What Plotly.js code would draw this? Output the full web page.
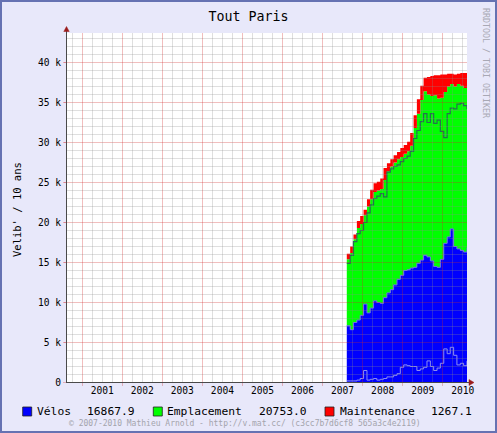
<!DOCTYPE html>
<html>
<head>
<meta charset="utf-8">
<script src="https://cdn.plot.ly/plotly-3.0.1.min.js"></script>
<style>
html,body{margin:0;padding:0;background:#E8E8FA;}
#chart{width:497px;height:433px;}
</style>
</head>
<body>
<div id="chart"></div>
<script>
// ---- data ----
const dates = ["2007-08-10","2007-09-10","2007-10-10","2007-11-10","2007-12-10",
  "2008-01-10","2008-02-10","2008-03-10","2008-04-10","2008-05-10","2008-06-10",
  "2008-07-10","2008-08-10","2008-09-10","2008-10-10","2008-11-10","2008-12-10",
  "2009-01-10","2009-02-10","2009-03-10","2009-04-10","2009-05-10","2009-06-10",
  "2009-07-10","2009-08-10","2009-09-10","2009-10-10","2009-11-10","2009-12-10",
  "2010-01-10","2010-02-10","2010-03-10","2010-04-10","2010-05-10","2010-06-10",
  "2010-07-10","2010-08-10"];
const velos = [7100,6600,7500,7800,8400,9800,8700,9300,10200,10000,9900,10600,11200,11600,
  12200,12900,13400,14000,14100,14300,14400,14900,15300,15900,15700,15200,14500,14400,
  15400,17400,18200,19200,17000,16700,16500,16300,16867.9];
const emplacement = [8300,9600,10400,11500,11400,11100,13300,13600,13600,14000,14300,14700,
  15200,15400,15300,15000,14800,14600,14800,15300,17400,18700,20000,20500,20300,20600,
  21400,21100,20200,18900,18800,18100,20000,20600,20600,20500,20753.0];
const maintenance = [700,800,600,900,1000,700,900,1200,1100,1100,1300,1500,1000,900,900,900,
  1100,1100,1200,1600,1600,1800,1800,1700,2200,2500,2500,2900,2900,2200,1600,1300,1500,
  1300,1600,1900,1267.1];
const darkLine = [14900,15900,17600,18600,19000,20000,21200,22200,23000,23300,23600,23200,
  26300,26700,27000,27200,27600,28000,28300,28900,30500,31500,32600,33600,32500,33600,
  32400,32800,31400,30600,33600,34300,34200,34800,34900,34600,34200];
const lightLine = [200,200,200,300,500,1500,300,400,500,300,400,500,700,700,900,1100,1900,
  2200,2100,2000,2000,1500,1700,1900,2700,2000,1500,1800,2400,4200,3600,4400,3400,2200,
  2400,2100,2700];

const seriesNames = ["Vélos","Emplacement","Maintenance"];
const yTickVals = [0,5000,10000,15000,20000,25000,30000,35000,40000];
const yTickText = ["0","5 k","10 k","15 k","20 k","25 k","30 k","35 k","40 k"];
const yearLabels = ["2001","2002","2003","2004","2005","2006","2007","2008","2009","2010"];

// ---- layout helpers (pixel -> paper) ----
const L=67, R=467, T=33, B=383;
const px = x => (x-L)/(R-L);
const py = y => (B-y)/(B-T);
const FONT = "DejaVu Sans Mono, monospace";
const colors = ["#0000FF","#00FF00","#FF0000"];
const xRange = ["2000-08-15","2010-08-10"];
const yRange = [-62.5, 43687.5];
const t0 = Date.parse(xRange[0]), t1 = Date.parse(xRange[1]);
const dateToPx = d => L + (Date.parse(d)-t0)/(t1-t0)*(R-L);

const traces = [
  {x:dates, y:velos, type:"scatter", mode:"lines", stackgroup:"s", name:seriesNames[0],
   line:{width:1, shape:"hv", color:"#6C6CE6"}, fillcolor:colors[0], hoverinfo:"skip"},
  {x:dates, y:emplacement, type:"scatter", mode:"lines", stackgroup:"s", name:seriesNames[1],
   line:{width:0, shape:"hv", color:colors[1]}, fillcolor:colors[1], hoverinfo:"skip"},
  {x:dates, y:maintenance, type:"scatter", mode:"lines", stackgroup:"s", name:seriesNames[2],
   line:{width:0, shape:"hv", color:colors[2]}, fillcolor:colors[2], hoverinfo:"skip"},
  {x:dates, y:darkLine, type:"scatter", mode:"lines", line:{width:1.2, shape:"hv", color:"#267050"}, hoverinfo:"skip"},
  {x:dates, y:lightLine, type:"scatter", mode:"lines", line:{width:1, shape:"hv", color:"#8C8CF0"}, hoverinfo:"skip"}
];

const shapes = [];
const minorCol = "rgba(140,140,140,0.28)";
const majorCol = "rgba(210,40,40,0.30)";
// horizontal grid
for (let v=1000; v<yRange[1]; v+=1000) {
  const major = v % 5000 === 0;
  shapes.push({type:"line", layer:"above", xref:"paper", yref:"y",
    x0: major ? px(64) : 0, x1:1, y0:v, y1:v,
    line:{color: major?majorCol:minorCol, width:1}});
}
// vertical grid (quarters, major on Jan 1), snapped to pixel centres
for (let yr=2000; yr<=2010; yr++) {
  for (const m of ["01","04","07","10"]) {
    const d = yr+"-"+m+"-01";
    if (d < xRange[0] || d > xRange[1]) continue;
    const major = m==="01";
    const xp = Math.floor(dateToPx(d)) + 0.5;
    shapes.push({type:"line", layer:"above", xref:"paper", yref:"paper",
      x0:px(xp), x1:px(xp), y0: major ? py(386) : 0, y1:1,
      line:{color: major?majorCol:minorCol, width:1}});
  }
}
// axis lines, extensions and arrows
shapes.push({type:"line", layer:"above", xref:"paper", yref:"paper", x0:px(66.5), x1:px(470), y0:py(382.5), y1:py(382.5), line:{color:"#4a4a4a", width:1}});
shapes.push({type:"line", layer:"above", xref:"paper", yref:"paper", x0:px(66.5), x1:px(66.5), y0:py(383), y1:py(30), line:{color:"#4a4a4a", width:1}});
shapes.push({type:"path", layer:"above", xref:"paper", yref:"paper",
  path:`M${px(469)},${py(379.5)} L${px(474)},${py(382.5)} L${px(469)},${py(385.5)} Z`,
  fillcolor:"#9B1C1C", line:{color:"#9B1C1C", width:0.5}});
shapes.push({type:"path", layer:"above", xref:"paper", yref:"paper",
  path:`M${px(63.8)},${py(31.5)} L${px(66.5)},${py(26.5)} L${px(69.2)},${py(31.5)} Z`,
  fillcolor:"#9B1C1C", line:{color:"#9B1C1C", width:0.5}});
// legend squares
const sqX = [22.7, 153.3, 325];
sqX.forEach((x,i)=>{
  shapes.push({type:"rect", layer:"above", xref:"paper", yref:"paper",
    x0:px(x), x1:px(x+9), y0:py(407), y1:py(416),
    fillcolor:colors[i], line:{color:"#222222", width:0.8}});
});
// outer border
shapes.push({type:"rect", layer:"above", xref:"paper", yref:"paper",
  x0:px(1), x1:px(496), y0:py(1), y1:py(432), line:{color:"#6672B2", width:2}});

const lastVals = [velos, emplacement, maintenance].map(a => a[a.length-1].toFixed(1));
const labelX = [37.3, 167.3, 340];
const valueX = [87.3, 259, 431];
const annotations = [];
seriesNames.forEach((n,i)=>{
  annotations.push({xref:"paper", yref:"paper", x:px(labelX[i]-2), y:py(411.5), text:n,
    showarrow:false, xanchor:"left", yanchor:"middle", font:{family:FONT, size:11.3, color:"#000"}});
  annotations.push({xref:"paper", yref:"paper", x:px(valueX[i]-2), y:py(411.5), text:lastVals[i],
    showarrow:false, xanchor:"left", yanchor:"middle", font:{family:FONT, size:11.3, color:"#000"}});
});
annotations.push({xref:"paper", yref:"paper", x:px(17), y:py(210), text:"Velib' / 10 ans",
  textangle:-90, showarrow:false, xanchor:"center", yanchor:"middle", font:{family:FONT, size:10.5, color:"#000"}});
annotations.push({xref:"paper", yref:"paper", x:px(486), y:py(63), text:"RRDTOOL / TOBI OETIKER",
  textangle:90, showarrow:false, xanchor:"center", yanchor:"middle", font:{family:FONT, size:8.3, color:"#A8A8B4"}});
annotations.push({xref:"paper", yref:"paper", x:px(244.5), y:py(423.8),
  text:"© 2007-2010 Mathieu Arnold - http://v.mat.cc/ (c3cc7b7d6cf8 565a3c4e2119)",
  showarrow:false, xanchor:"center", yanchor:"middle", font:{family:FONT, size:8, color:"#A4A4AC"}});

const layout = {
  width:497, height:433,
  margin:{l:L, r:497-R, t:T, b:433-B, pad:0},
  paper_bgcolor:"#E8E8FA", plot_bgcolor:"#FFFFFF",
  font:{family:FONT, size:9.6, color:"#000"},
  showlegend:false,
  title:{text:"Tout Paris", font:{family:FONT, size:13.3, color:"#000"},
    x:0.5, xref:"container", xanchor:"center", y:1-16/433, yref:"container", yanchor:"middle"},
  xaxis:{type:"date", range:xRange, showgrid:false, zeroline:false, showline:false, ticks:"",
    tickvals: yearLabels.map(y => y+"-07-02"), ticktext: yearLabels,
    tickfont:{family:FONT, size:9.6, color:"#000"}, fixedrange:true},
  yaxis:{range:yRange, showgrid:false, zeroline:false, showline:false,
    ticks:"outside", ticklen:3, tickcolor:majorCol,
    tickvals:yTickVals, ticktext:yTickText,
    tickfont:{family:FONT, size:9.6, color:"#000"}, fixedrange:true},
  shapes:shapes, annotations:annotations
};

Plotly.newPlot("chart", traces, layout, {staticPlot:true, displayModeBar:false});
</script>
</body>
</html>
